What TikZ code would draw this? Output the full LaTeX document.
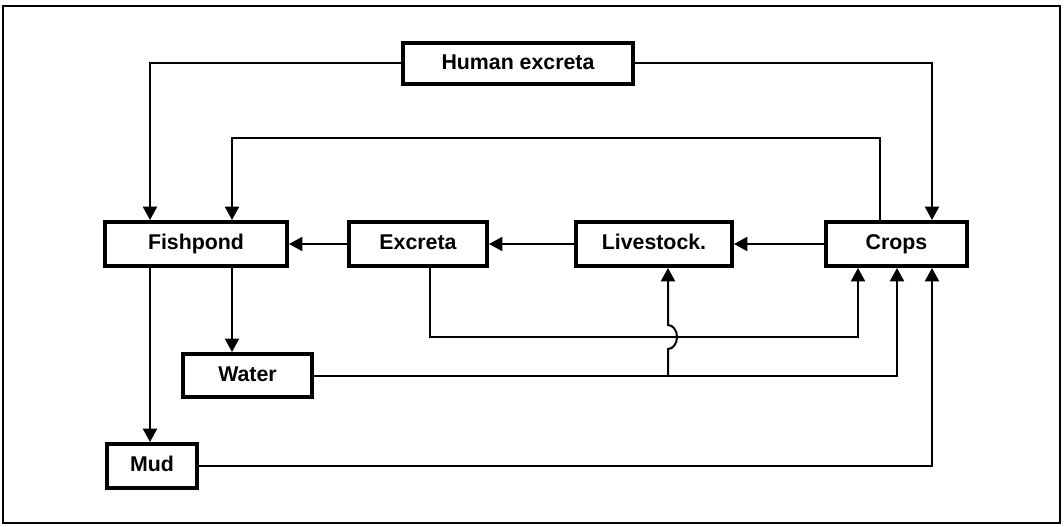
\documentclass[tikz,border=0pt]{standalone}
\usepackage{fontspec}
\setmainfont{Liberation Sans}
\usetikzlibrary{arrows.meta}
\begin{document}
\begin{tikzpicture}[x=0.75pt,y=-0.75pt,
  box/.style={draw,line width=3pt,inner sep=0pt,fill=white,
    text height=11.5pt,text depth=3pt,
    font=\fontsize{16}{19}\selectfont\bfseries},
  conn/.style={line width=1.5pt},
  arr/.style={conn,-{Triangle[length=10pt,width=10.5pt]}}]
\useasboundingbox (0,0) rectangle (1064,527);
\draw[line width=1.4pt] (3,6) rectangle (1060,523);
% boxes
\node[box,minimum width=172.5pt,minimum height=30.75pt] (he) at (518,63.5) {Human excreta};
\node[box,minimum width=136.5pt,minimum height=33pt] (fish) at (196,244) {Fishpond};
\node[box,minimum width=103.5pt,minimum height=33pt] (exc) at (418,244) {Excreta};
\node[box,minimum width=117pt,minimum height=33pt] (live) at (654,244) {Livestock.};
\node[box,minimum width=105.75pt,minimum height=33pt] (crops) at (896.5,244) {Crops};
\node[box,minimum width=96.75pt,minimum height=32.25pt] (water) at (247.5,375.5) {Water};
\node[box,minimum width=67.5pt,minimum height=33pt] (mud) at (152,466) {Mud};
% helper columns / rows
\coordinate (xA) at (150,0);
\coordinate (xB) at (232,0);
\coordinate (xC) at (932,0);
\coordinate (xD) at (880,0);
\coordinate (xE) at (430,0);
\coordinate (xF) at (858,0);
\coordinate (xG) at (897,0);
\coordinate (xH) at (668,0);
\coordinate (yT) at (0,138);
\coordinate (yM) at (0,337);
% connectors
\draw[arr] (he.west) -| (xA |- fish.north);
\draw[arr] (he.east) -| (xC |- crops.north);
\draw[arr] (xD |- crops.north) -- (xD |- yT) -| (xB |- fish.north);
\draw[arr] (exc.west) -- (fish.east);
\draw[arr] (live.west) -- (exc.east);
\draw[arr] (crops.west) -- (live.east);
\draw[arr] (xB |- fish.south) -- (xB |- water.north);
\draw[arr] (xA |- fish.south) -- (xA |- mud.north);
\draw[arr] (xE |- exc.south) -- (xE |- yM) -| (xF |- crops.south);
\draw[arr] (water.east) -| (xG |- crops.south);
\coordinate (wj) at (xH |- water.east);
\coordinate (hop) at (668,349);
\draw[arr] (wj) -- (hop) arc[start angle=-90,end angle=90,x radius=6.75pt,y radius=9pt] -- (xH |- live.south);
\draw[arr] (mud.east) -| (xC |- crops.south);
\end{tikzpicture}
\end{document}
